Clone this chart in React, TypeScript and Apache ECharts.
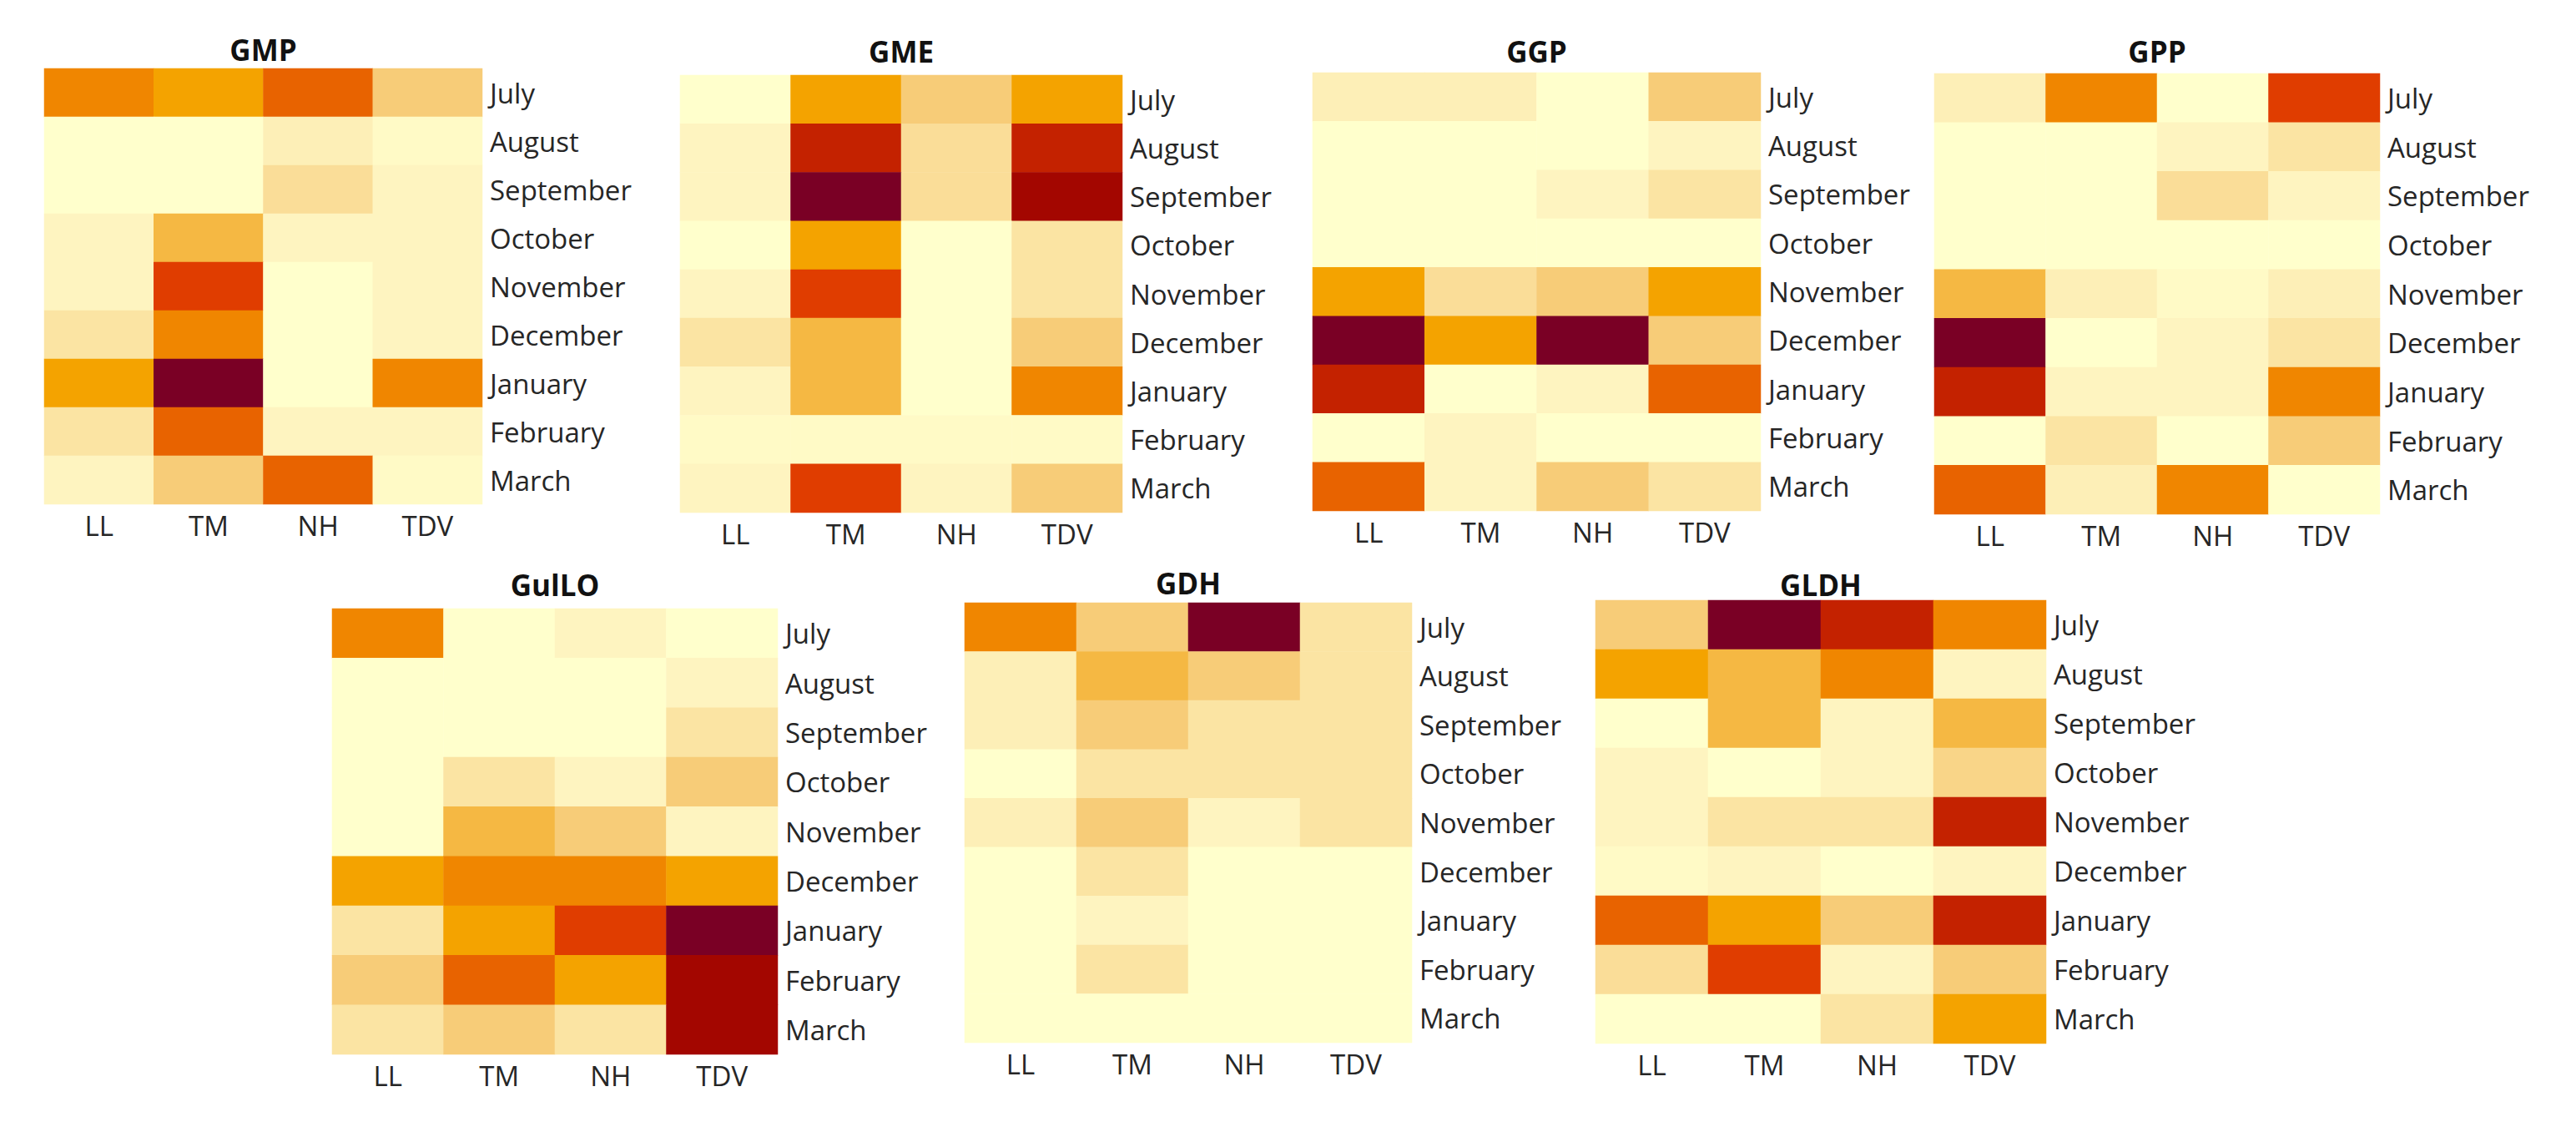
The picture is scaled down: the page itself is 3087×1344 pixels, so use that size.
import React, { useEffect, useRef } from 'react';
import * as echarts from 'echarts';

const MONTHS = ['July', 'August', 'September', 'October', 'November', 'December', 'January', 'February', 'March'];
const SITES = ['LL', 'TM', 'NH', 'TDV'];
const PANEL_TITLES = ['GMP', 'GME', 'GGP', 'GPP', 'GulLO', 'GDH', 'GLDH'];

// rows: months (July..March), columns: LL, TM, NH, TDV
const GMP = [
  [7, 6, 8, 4],
  [0, 0, 1.5, 0.5],
  [0, 0, 3, 1],
  [1, 5, 1, 1],
  [1, 9, 0, 1],
  [2.5, 7, 0, 1],
  [6, 12, 0, 7],
  [2.5, 8, 1, 1],
  [1, 4, 8, 0.5],
];
const GME = [
  [0, 6, 4, 6],
  [1, 10, 3, 10],
  [1, 12, 3, 11],
  [0, 6, 0, 2.5],
  [1, 9, 0, 2.5],
  [2.5, 5, 0, 4],
  [1, 5, 0, 7],
  [0.5, 0.5, 0.5, 0.5],
  [1, 9, 1, 4],
];
const GGP = [
  [1.5, 1.5, 0, 4],
  [0, 0, 0, 1],
  [0, 0, 1, 2.5],
  [0, 0, 0, 0],
  [6, 3, 4, 6],
  [12, 6, 12, 4],
  [10, 0, 1, 8],
  [0, 1, 0, 0],
  [8, 1, 4, 2.5],
];
const GPP = [
  [1.5, 7, 0, 9],
  [0, 0, 1, 2.5],
  [0, 0, 3, 1],
  [0, 0, 0, 0],
  [5, 1.5, 0.5, 1.5],
  [12, 0, 1, 2.5],
  [10, 1, 1, 7],
  [0, 2.5, 0, 4],
  [8, 1.5, 7, 0],
];
const GULLO = [
  [7, 0, 1, 0],
  [0, 0, 0, 1],
  [0, 0, 0, 2.5],
  [0, 2.5, 1, 4],
  [0, 5, 4, 1],
  [6, 7, 7, 6],
  [2.5, 6, 9, 12],
  [4, 8, 6, 11],
  [2.5, 4, 2.5, 11],
];
const GDH = [
  [7, 4, 12, 2.5],
  [1.5, 5, 4, 2.5],
  [1.5, 4, 2.5, 2.5],
  [0, 2.5, 2.5, 2.5],
  [1.5, 4, 1, 2.5],
  [0, 2.5, 0, 0],
  [0, 1, 0, 0],
  [0, 2.5, 0, 0],
  [0, 0, 0, 0],
];
const GLDH = [
  [4, 12, 10, 7],
  [6, 5, 7, 1],
  [0, 5, 1, 5],
  [1, 0, 1, 3.5],
  [1, 2.5, 2.5, 10],
  [0.5, 1, 0, 1],
  [8, 6, 4, 10],
  [3, 9, 1, 4],
  [0, 0, 2.5, 6],
];
const PANELS = [GMP, GME, GGP, GPP, GULLO, GDH, GLDH];

const COLOR_STOPS = [
  '#FFFFCC', '#FEF4C0', '#FCEAAE', '#FADD98', '#F7CC78', '#F5B843', '#F4A300',
  '#F08600', '#E86300', '#E03D00', '#C42200', '#A30600', '#7A0025',
];

const LAYOUT = [
  { left: 53, right: 578, top: 82, bottom: 604, titleTop: 42 },
  { left: 815, right: 1345, top: 90, bottom: 614, titleTop: 44 },
  { left: 1573, right: 2110, top: 87, bottom: 612, titleTop: 44 },
  { left: 2318, right: 2852, top: 88, bottom: 616, titleTop: 44 },
  { left: 398, right: 932, top: 729, bottom: 1263, titleTop: 683 },
  { left: 1156, right: 1692, top: 722, bottom: 1249, titleTop: 681 },
  { left: 1912, right: 2452, top: 719, bottom: 1250, titleTop: 683 },
];

const FONT = '"Open Sans", Lato, sans-serif';

function buildOption() {
  const labelStyle = { fontSize: 33, color: '#262626', fontFamily: FONT };
  return {
    animation: false,
    backgroundColor: '#ffffff',
    title: LAYOUT.map((l, i) => ({
      text: PANEL_TITLES[i],
      left: (l.left + l.right) / 2,
      top: l.titleTop,
      textAlign: 'center',
      padding: 0,
      textStyle: { fontSize: 35, fontWeight: 'bold', fontFamily: FONT, color: '#111111' },
    })),
    grid: LAYOUT.map((l) => ({
      left: l.left,
      top: l.top,
      width: l.right - l.left,
      height: l.bottom - l.top,
      containLabel: false,
    })),
    xAxis: LAYOUT.map((_, i) => ({
      type: 'category',
      gridIndex: i,
      data: SITES,
      position: 'bottom',
      axisLine: { show: false },
      axisTick: { show: false },
      splitLine: { show: false },
      axisLabel: { ...labelStyle, margin: 9 },
    })),
    yAxis: LAYOUT.map((_, i) => ({
      type: 'category',
      gridIndex: i,
      data: MONTHS,
      position: 'right',
      inverse: true,
      axisLine: { show: false },
      axisTick: { show: false },
      splitLine: { show: false },
      axisLabel: { ...labelStyle, margin: 9 },
    })),
    visualMap: {
      type: 'continuous',
      min: 0,
      max: 12,
      show: false,
      seriesIndex: PANELS.map((_, i) => i),
      inRange: { color: COLOR_STOPS },
    },
    series: PANELS.map((m, i) => ({
      type: 'heatmap',
      name: PANEL_TITLES[i],
      xAxisIndex: i,
      yAxisIndex: i,
      data: m.flatMap((row, r) => row.map((v, c) => [c, r, v])),
      itemStyle: { borderWidth: 0 },
      emphasis: { disabled: true },
      label: { show: false },
    })),
  };
}

export default function App() {
  const ref = useRef<HTMLDivElement>(null);
  useEffect(() => {
    document.body.style.margin = '0';
    const chart = echarts.init(ref.current as HTMLDivElement, null, { renderer: 'svg' });
    chart.setOption(buildOption() as any);
    return () => chart.dispose();
  }, []);
  return <div ref={ref} style={{ width: 3087, height: 1344, background: '#ffffff' }} />;
}
